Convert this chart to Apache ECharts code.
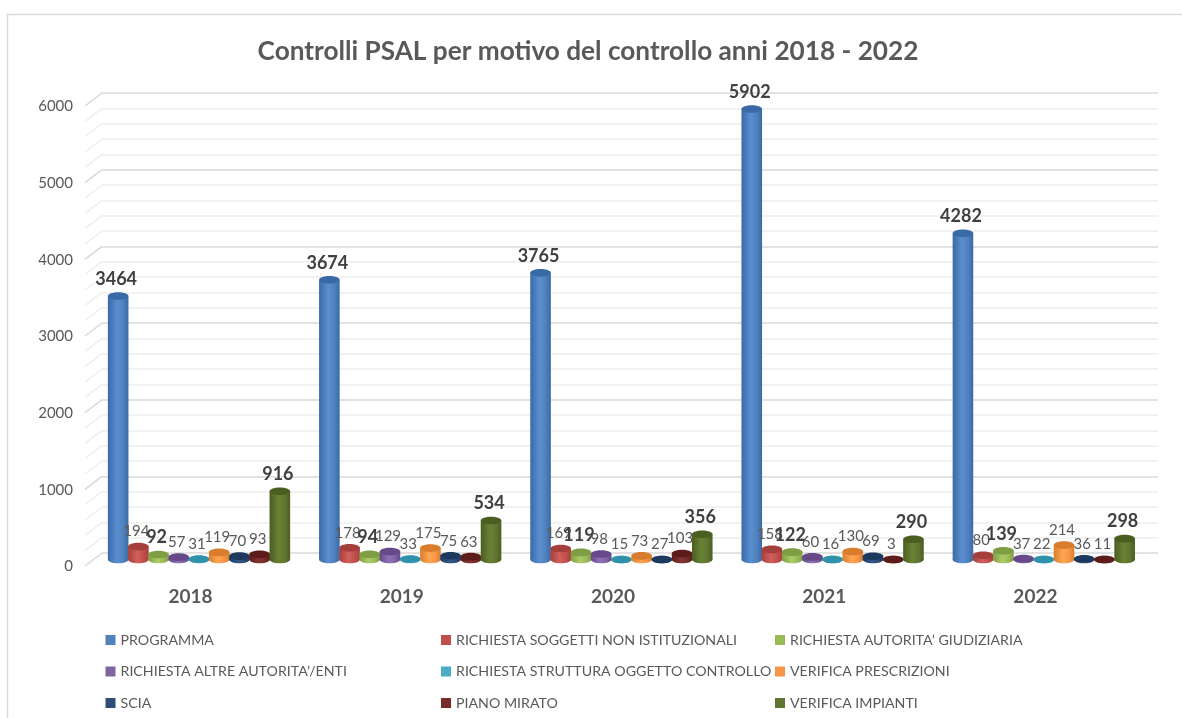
<!DOCTYPE html>
<html>
<head>
<meta charset="utf-8">
<style>
  html, body { margin: 0; padding: 0; background: #fff; }
  #main { width: 1182px; height: 718px; }
</style>
<script src="https://cdn.jsdelivr.net/npm/echarts@6/dist/echarts.min.js"></script>
</head>
<body>
<div id="main"></div>
<script>
const years = ['2018', '2019', '2020', '2021', '2022'];

const programma = [3464, 3674, 3765, 5902, 4282];
const soggetti = [194, 178, 169, 158, 80];
const giudiziaria = [92, 94, 119, 122, 139];
const altreAutorita = [57, 129, 98, 60, 37];
const struttura = [31, 33, 15, 16, 22];
const prescrizioni = [119, 175, 73, 130, 214];
const scia = [70, 75, 27, 69, 36];
const pianoMirato = [93, 63, 103, 3, 11];
const impianti = [916, 534, 356, 290, 298];

const gridValues = [0, 200, 400, 600, 800, 1000, 1200, 1400, 1600, 1800, 2000, 2200, 2400, 2600, 2800, 3000,
  3200, 3400, 3600, 3800, 4000, 4200, 4400, 4600, 4800, 5000, 5200, 5400, 5600, 5800, 6000];

const TEXT = '#595959';
const FONT = 'Lato';

// [nome, valori, colore base, lato scuro, centro chiaro, etichetta in grassetto]
const seriesDefs = [
  ['PROGRAMMA', programma, '#4f81bd', '#3a6aa5', '#5a8fd0', true],
  ['RICHIESTA SOGGETTI NON ISTITUZIONALI', soggetti, '#c0504d', '#a63f3c', '#d2605c', false],
  ['RICHIESTA AUTORITA\u2019 GIUDIZIARIA', giudiziaria, '#9bbb59', '#7f9d42', '#abcc66', true],
  ['RICHIESTA ALTRE AUTORITA\u2019/ENTI', altreAutorita, '#8064a2', '#67498a', '#8f72b4', false],
  ['RICHIESTA STRUTTURA OGGETTO CONTROLLO', struttura, '#4bacc6', '#3091ab', '#58bdd8', false],
  ['VERIFICA PRESCRIZIONI', prescrizioni, '#f79646', '#d97c2e', '#ffa653', false],
  ['SCIA', scia, '#2c4d75', '#1d3a5e', '#33598a', false],
  ['PIANO MIRATO', pianoMirato, '#772c2a', '#5c1c1a', '#853533', false],
  ['VERIFICA IMPIANTI', impianti, '#5f7530', '#4a5e20', '#6a8236', true]
];

// profondita' finta del 3D, come in Excel
const DEPTH_X = 17;
const DEPTH_Y = 13;
const BAR_SHIFT_X = 8.6;
const TOP_SHIFT_Y = 8.5;
const BASE_SHIFT_Y = 6.5;
const ELLIPSE_RY = 3.8;

function cylinder(index, color, dark, light, bold) {
  return function (params, api) {
    const value = api.value(1);
    const top = api.coord([api.value(0), value]);
    const base = api.coord([api.value(0), 0]);
    const band = api.size([1, 0])[0];
    const barW = band * 0.0975;
    const cx = top[0] - BAR_SHIFT_X + (index - 4) * (band * 0.0957);
    const baseY = base[1] + BASE_SHIFT_Y;
    const topY = Math.min(top[1] + TOP_SHIFT_Y, baseY);
    const rx = barW / 2;
    const fill = new echarts.graphic.LinearGradient(0, 0, 1, 0, [
      { offset: 0, color: dark },
      { offset: 0.45, color: light },
      { offset: 0.75, color: color },
      { offset: 1, color: dark }
    ]);
    return {
      type: 'group',
      children: [
        { type: 'ellipse', shape: { cx: cx, cy: baseY, rx: rx, ry: ELLIPSE_RY }, style: { fill: fill } },
        { type: 'rect', shape: { x: cx - rx, y: topY, width: barW, height: baseY - topY }, style: { fill: fill } },
        { type: 'ellipse', shape: { cx: cx, cy: topY, rx: rx, ry: ELLIPSE_RY }, style: { fill: dark } },
        {
          type: 'text',
          z2: 100,
          style: {
            x: cx - 2,
            y: topY - (bold ? 17 : 15),
            text: String(value),
            align: 'center',
            verticalAlign: 'middle',
            fill: bold ? '#404040' : TEXT,
            font: (bold ? 'bold 18px ' : '15px ') + FONT
          }
        }
      ]
    };
  };
}

function gridStub(params, api) {
  const y = api.coord([0, api.value(0)])[1];
  const major = api.value(0) % 1000 === 0;
  return {
    type: 'line',
    shape: { x1: params.coordSys.x - DEPTH_X, y1: y + DEPTH_Y, x2: params.coordSys.x, y2: y },
    style: { stroke: major ? '#d9d9d9' : '#eeeeee', lineWidth: 1.5 }
  };
}

const series = seriesDefs.map(function (def, i) {
  return {
    name: def[0],
    type: 'custom',
    itemStyle: { color: def[2] },
    renderItem: cylinder(i, def[2], def[3], def[4], def[5]),
    encode: { x: 0, y: 1 },
    data: def[1].map(function (v, j) { return [j, v]; })
  };
});
series.push({
  name: 'griglia',
  type: 'custom',
  silent: true,
  renderItem: gridStub,
  encode: { y: 0 },
  data: gridValues.map(function (v) { return [v]; }),
  z: 1
});

function legendColumn(left, names) {
  return {
    left: left,
    top: 633,
    padding: 0,
    orient: 'vertical',
    itemWidth: 10,
    itemHeight: 10,
    itemGap: 17.5,
    icon: 'rect',
    selectedMode: false,
    data: names,
    textStyle: { color: TEXT, fontFamily: FONT, fontSize: 14.2 }
  };
}

const chart = echarts.init(document.getElementById('main'));
chart.setOption({
  animation: false,
  backgroundColor: '#fff',
  title: {
    text: 'Controlli PSAL per motivo del controllo anni 2018 - 2022',
    left: 583,
    top: 34,
    textAlign: 'center',
    textStyle: { color: TEXT, fontFamily: FONT, fontWeight: 'bold', fontSize: 26.2 }
  },
  graphic: [
    { type: 'polyline', shape: { points: [[7.5, 718], [7.5, 14.5], [1182, 14.5]] }, style: { fill: null, stroke: '#d9d9d9', lineWidth: 1.5 }, silent: true }
  ],
  grid: { left: 102, right: 24, top: 93, bottom: 165 },
  legend: [
    legendColumn(105.5, [seriesDefs[0][0], seriesDefs[3][0], seriesDefs[6][0]]),
    legendColumn(441, [seriesDefs[1][0], seriesDefs[4][0], seriesDefs[7][0]]),
    legendColumn(775, [seriesDefs[2][0], seriesDefs[5][0], seriesDefs[8][0]])
  ],
  tooltip: { show: false },
  xAxis: {
    type: 'category',
    data: years,
    axisLine: { show: false },
    axisTick: { show: false },
    axisLabel: {
      color: TEXT,
      fontFamily: FONT,
      fontWeight: 'bold',
      fontSize: 19,
      margin: 34,
      padding: [0, DEPTH_X * 2, 0, 0]
    }
  },
  yAxis: {
    type: 'value',
    min: 0,
    max: 6000,
    interval: 1000,
    axisLine: { show: false },
    axisTick: { show: false },
    axisLabel: {
      color: TEXT,
      fontFamily: FONT,
      fontSize: 15,
      margin: 29,
      verticalAlign: 'top',
      padding: [6, 0, 0, 0],
      formatter: function (v) { return String(v); }
    },
    splitLine: { show: true, lineStyle: { color: '#d9d9d9', width: 1.5 } },
    minorTick: { show: false, splitNumber: 5 },
    minorSplitLine: { show: true, lineStyle: { color: '#eeeeee', width: 1.5 } }
  },
  series: series
});
</script>
</body>
</html>
